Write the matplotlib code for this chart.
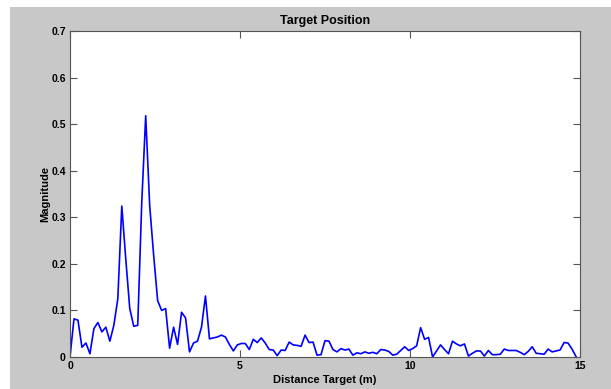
import numpy as np
import matplotlib
matplotlib.use("Agg")
import matplotlib.pyplot as plt
from matplotlib.patches import Rectangle

# magnitude, one value per range bin (15 m / 128 bins)
magnitude = [
    0.000, 0.082, 0.079, 0.021, 0.030, 0.007, 0.061, 0.074, 0.054, 0.064,
    0.034, 0.068, 0.125, 0.324, 0.210, 0.104, 0.066, 0.068, 0.330, 0.518,
    0.325, 0.218, 0.121, 0.100, 0.104, 0.019, 0.064, 0.027, 0.096, 0.084,
    0.011, 0.030, 0.034, 0.064, 0.131, 0.039, 0.041, 0.043, 0.047, 0.043,
    0.027, 0.013, 0.026, 0.029, 0.029, 0.016, 0.038, 0.031, 0.041, 0.030,
    0.016, 0.015, 0.003, 0.015, 0.014, 0.032, 0.026, 0.025, 0.023, 0.047,
    0.031, 0.032, 0.004, 0.005, 0.035, 0.034, 0.016, 0.011, 0.018, 0.015,
    0.017, 0.004, 0.009, 0.007, 0.011, 0.008, 0.010, 0.007, 0.016, 0.015,
    0.012, 0.004, 0.006, 0.014, 0.022, 0.014, 0.018, 0.024, 0.063, 0.038,
    0.042, 0.000, 0.013, 0.026, 0.016, 0.007, 0.034, 0.028, 0.024, 0.028,
    0.002, 0.008, 0.013, 0.013, 0.002, 0.014, 0.005, 0.005, 0.006, 0.017,
    0.014, 0.014, 0.014, 0.010, 0.005, 0.012, 0.022, 0.008, 0.007, 0.006,
    0.017, 0.011, 0.013, 0.015, 0.031, 0.030, 0.017, 0.001,
]
bin_width = 15.0 / 128
distance = np.arange(len(magnitude)) * bin_width

x_ticks = [0, 5, 10, 15]
y_ticks = [0, 0.1, 0.2, 0.3, 0.4, 0.5, 0.6, 0.7]
y_tick_labels = ["0", "0.1", "0.2", "0.3", "0.4", "0.5", "0.6", "0.7"]

plt.rcParams['font.family'] = ['Liberation Sans', 'DejaVu Sans']
plt.rcParams['font.weight'] = 'bold'

W, H = 611, 389
fig = plt.figure(figsize=(W / 100, H / 100), dpi=100, facecolor='white')
# matlab-style grey figure area (white strip on top and left)
fig.patches.append(Rectangle((10 / W, 0), 1, (H - 7) / H, transform=fig.transFigure,
                             facecolor='#c8c8c8', edgecolor='none', zorder=-10))

ax = fig.add_axes([70 / W, (H - 357) / H, 510 / W, 326 / H])
ax.set_zorder(1)
ax.set_facecolor('white')
ax.plot(distance, magnitude, color='#0000ff', linewidth=1.2)

ax.set_xlim(0, 15)
ax.set_ylim(0, 0.7)
ax.set_xticks(x_ticks)
ax.set_xticklabels([str(t) for t in x_ticks])
ax.set_yticks(y_ticks)
ax.set_yticklabels(y_tick_labels)
ax.tick_params(direction='in', length=5, width=0.8, color='#555555',
               top=True, right=True, labelsize=7.5, pad=3)
for lab in ax.get_xticklabels() + ax.get_yticklabels():
    lab.set_fontweight('bold')
for s in ax.spines.values():
    s.set_color('#555555')
    s.set_linewidth(0.8)

ax.set_title("Target Position", fontsize=9, fontweight='bold', pad=5)
ax.set_xlabel("Distance Target (m)", fontsize=8, fontweight='bold', labelpad=3)
ax.set_ylabel("Magnitude", fontsize=8, fontweight='bold', labelpad=1)

fig.savefig("out.png", dpi=100, facecolor=fig.get_facecolor())
